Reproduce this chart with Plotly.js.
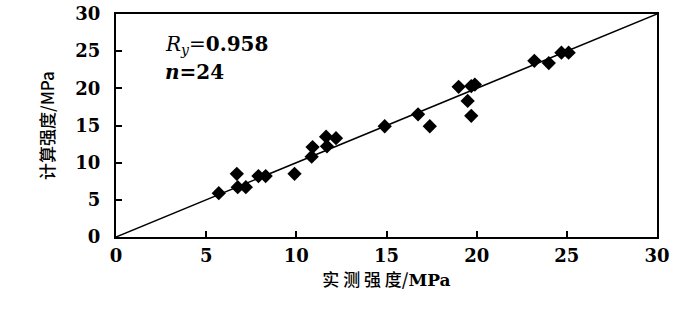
<!DOCTYPE html>
<html>
<head>
<meta charset="utf-8">
<script src="https://cdn.plot.ly/plotly-3.0.1.min.js"></script>
<style>
  body { margin: 0; background: #fff; }
  #myPlot { width: 700px; height: 325px; }
</style>
</head>
<body>
<div id="myPlot"></div>
<script>
// measured strength (x) vs calculated strength (y), MPa
var measured = [5.7, 6.7, 6.75, 7.2, 7.9, 8.3, 9.9, 10.85, 10.9, 11.65, 11.7, 12.2,
                14.9, 16.75, 17.4, 19.0, 19.5, 19.7, 19.7, 19.9, 23.2, 24.0, 24.7, 25.1]
var calculated = [5.9, 8.5, 6.7, 6.7, 8.2, 8.2, 8.5, 10.8, 12.1, 13.5, 12.2, 13.3,
                  14.9, 16.5, 14.9, 20.2, 18.3, 16.3, 20.3, 20.5, 23.7, 23.4, 24.8, 24.8]
var lineX = [0, 30]
var lineY = [0, 30]
var tickVals = [0, 5, 10, 15, 20, 25, 30]

var serif = "DejaVu Serif"
var cjk = "Noto Sans CJK SC"

var data = [
  {x: lineX, y: lineY, mode: "lines", line: {color: "#000", width: 1.5},
   hoverinfo: "skip", showlegend: false},
  {x: measured, y: calculated, mode: "markers", showlegend: false,
   marker: {symbol: "diamond", size: 11, color: "#000"}}
]

function axis(titleText, standoff, labelGap) {
  return {
    range: [0, 30], tickvals: tickVals, ticks: "inside", ticklen: 6, tickwidth: 1.5,
    tickcolor: "#000", showline: true, linecolor: "#000", linewidth: 2, mirror: true,
    showgrid: false, zeroline: false, ticklabelstandoff: labelGap,
    tickfont: {family: serif, size: 18, weight: 700, color: "#000"},
    title: {text: titleText, standoff: standoff,
            font: {family: cjk, size: 17, weight: 500, color: "#000"}}
  }
}

var layout = {
  width: 700, height: 325,
  margin: {l: 116, r: 43, t: 14, b: 88},
  paper_bgcolor: "#fff", plot_bgcolor: "#fff",
  font: {family: serif, color: "#000"},
  xaxis: axis("实 测 强 度/<span style='font-family:DejaVu Serif'><b>MPa</b></span>", 10, 1),
  yaxis: axis("计算强度/MPa", 16, 10),
  annotations: [
    {x: 2.6, y: 25.8, xref: "x", yref: "y", xanchor: "left", showarrow: false,
     text: "<i>R</i><sub><i>y</i></sub>=<b>0.958</b>",
     font: {family: serif, size: 20, color: "#000"}},
    {x: 2.6, y: 22.2, xref: "x", yref: "y", xanchor: "left", showarrow: false,
     text: "<b><i>n</i>=24</b>",
     font: {family: serif, size: 20, color: "#000"}}
  ]
}

Plotly.newPlot("myPlot", data, layout, {displayModeBar: false})
</script>
</body>
</html>
